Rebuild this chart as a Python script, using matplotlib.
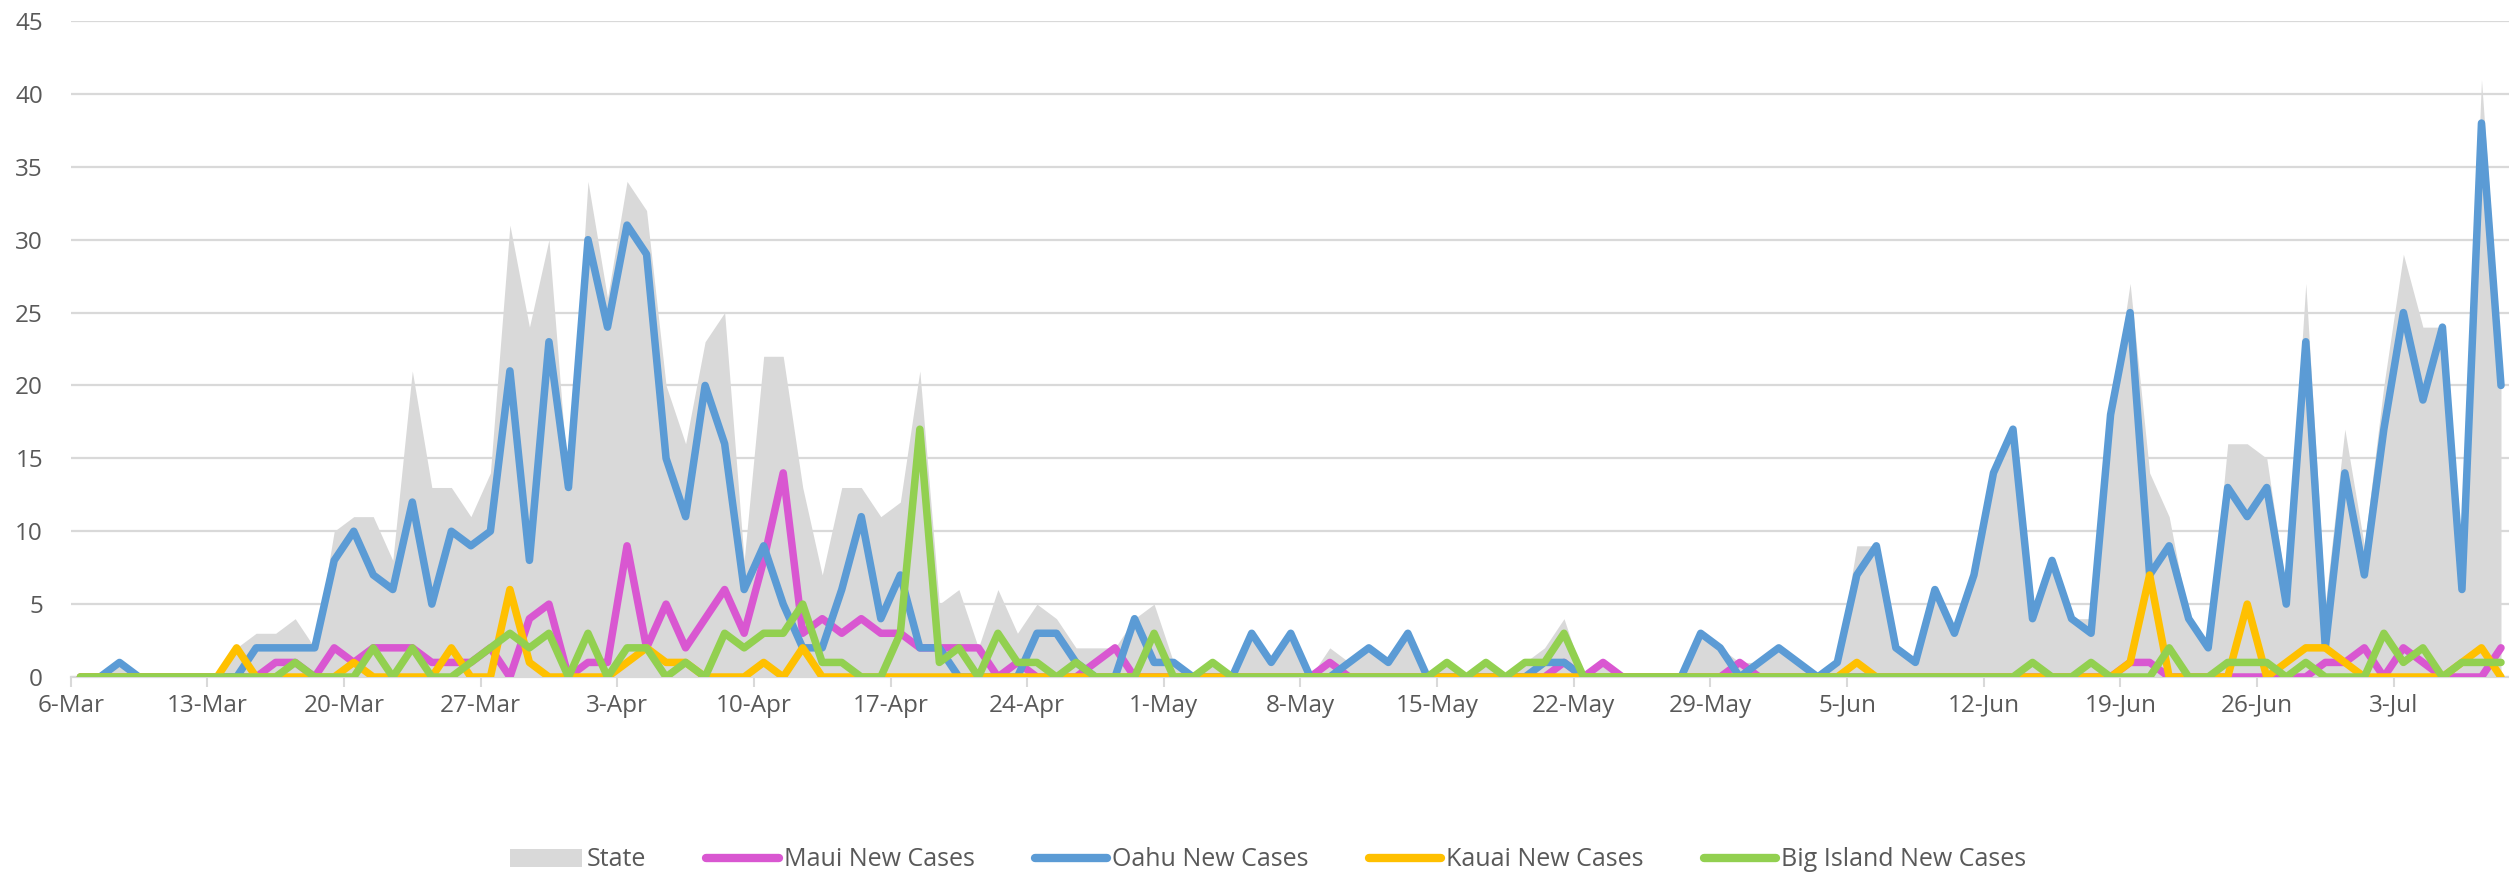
import matplotlib
matplotlib.use("Agg")
import matplotlib.pyplot as plt
import numpy as np
from matplotlib.patches import Patch
from matplotlib.lines import Line2D

# Daily values, 6-Mar .. 8-Jul (125 days)
state = [0, 0, 1, 0, 0, 0, 0, 0, 2, 3,
         3, 4, 2, 10, 11, 11, 8, 21, 13, 13,
         11, 14, 31, 24, 30, 13, 34, 26, 34, 32,
         20, 16, 23, 25, 8, 22, 22, 13, 7, 13,
         13, 11, 12, 21, 5, 6, 2, 6, 3, 5,
         4, 2, 2, 2, 4, 5, 1, 0, 1, 0,
         3, 1, 3, 0, 2, 1, 2, 1, 3, 0,
         1, 0, 1, 0, 1, 2, 4, 0, 1, 0,
         0, 0, 0, 3, 2, 1, 1, 2, 1, 0,
         1, 9, 9, 2, 1, 6, 3, 7, 14, 17,
         5, 8, 4, 4, 18, 27, 14, 11, 4, 2,
         16, 16, 15, 6, 27, 5, 17, 9, 20, 29,
         24, 24, 8, 41, 22]

maui = [0, 0, 0, 0, 0, 0, 0, 0, 0, 0,
        1, 1, 0, 2, 1, 2, 2, 2, 1, 1,
        1, 2, 0, 4, 5, 0, 1, 1, 9, 2,
        5, 2, 4, 6, 3, 8, 14, 3, 4, 3,
        4, 3, 3, 2, 2, 2, 2, 0, 1, 0,
        0, 0, 1, 2, 0, 0, 0, 0, 0, 0,
        0, 0, 0, 0, 1, 0, 0, 0, 0, 0,
        0, 0, 0, 0, 0, 0, 1, 0, 1, 0,
        0, 0, 0, 0, 0, 1, 0, 0, 0, 0,
        0, 0, 0, 0, 0, 0, 0, 0, 0, 0,
        0, 0, 0, 0, 0, 1, 1, 0, 0, 0,
        0, 0, 0, 0, 0, 1, 1, 2, 0, 2,
        1, 0, 0, 0, 2]

oahu = [0, 0, 1, 0, 0, 0, 0, 0, 0, 2,
        2, 2, 2, 8, 10, 7, 6, 12, 5, 10,
        9, 10, 21, 8, 23, 13, 30, 24, 31, 29,
        15, 11, 20, 16, 6, 9, 5, 2, 2, 6,
        11, 4, 7, 2, 2, 0, 0, 0, 0, 3,
        3, 1, 0, 0, 4, 1, 1, 0, 0, 0,
        3, 1, 3, 0, 0, 1, 2, 1, 3, 0,
        0, 0, 0, 0, 0, 1, 1, 0, 0, 0,
        0, 0, 0, 3, 2, 0, 1, 2, 1, 0,
        1, 7, 9, 2, 1, 6, 3, 7, 14, 17,
        4, 8, 4, 3, 18, 25, 7, 9, 4, 2,
        13, 11, 13, 5, 23, 2, 14, 7, 17, 25,
        19, 24, 6, 38, 20]

kauai = [0, 0, 0, 0, 0, 0, 0, 0, 2, 0,
         0, 0, 0, 0, 1, 0, 0, 0, 0, 2,
         0, 0, 6, 1, 0, 0, 0, 0, 1, 2,
         1, 1, 0, 0, 0, 1, 0, 2, 0, 0,
         0, 0, 0, 0, 0, 0, 0, 0, 0, 0,
         0, 0, 0, 0, 0, 0, 0, 0, 0, 0,
         0, 0, 0, 0, 0, 0, 0, 0, 0, 0,
         0, 0, 0, 0, 0, 0, 0, 0, 0, 0,
         0, 0, 0, 0, 0, 0, 0, 0, 0, 0,
         0, 1, 0, 0, 0, 0, 0, 0, 0, 0,
         0, 0, 0, 0, 0, 1, 7, 0, 0, 0,
         0, 5, 0, 1, 2, 2, 1, 0, 0, 0,
         0, 0, 1, 2, 0]

big_island = [0, 0, 0, 0, 0, 0, 0, 0, 0, 0,
              0, 1, 0, 0, 0, 2, 0, 2, 0, 0,
              1, 2, 3, 2, 3, 0, 3, 0, 2, 2,
              0, 1, 0, 3, 2, 3, 3, 5, 1, 1,
              0, 0, 3, 17, 1, 2, 0, 3, 1, 1,
              0, 1, 0, 0, 0, 3, 0, 0, 1, 0,
              0, 0, 0, 0, 0, 0, 0, 0, 0, 0,
              1, 0, 1, 0, 1, 1, 3, 0, 0, 0,
              0, 0, 0, 0, 0, 0, 0, 0, 0, 0,
              0, 0, 0, 0, 0, 0, 0, 0, 0, 0,
              1, 0, 0, 1, 0, 0, 0, 2, 0, 0,
              1, 1, 1, 0, 1, 0, 0, 0, 3, 1,
              2, 0, 1, 1, 1]

tick_labels = ["6-Mar", "13-Mar", "20-Mar", "27-Mar", "3-Apr", "10-Apr",
               "17-Apr", "24-Apr", "1-May", "8-May", "15-May", "22-May",
               "29-May", "5-Jun", "12-Jun", "19-Jun", "26-Jun", "3-Jul"]

series_names = ["State", "Maui New Cases", "Oahu New Cases",
                "Kauai New Cases", "Big Island New Cases"]

C_STATE = "#D9D9D9"
C_MAUI = "#D957D1"
C_OAHU = "#5B9BD5"
C_KAUAI = "#FFC000"
C_BIG = "#92D050"
TXT = "#595959"

plt.rcParams["font.family"] = ["Open Sans", "DejaVu Sans"]

W, H = 2509, 873
fig = plt.figure(figsize=(W / 100, H / 100), dpi=100)
left = 70.7 / W
bottom = (H - 677) / H
top = (H - 21) / H
ax = fig.add_axes([left, bottom, 1 - left, top - bottom])

x = np.arange(len(state))
ax.fill_between(x, 0, state, color=C_STATE, lw=0, zorder=1)
lw = 5.4
kw = dict(lw=lw, solid_joinstyle="round", solid_capstyle="round", zorder=3)
ax.plot(x, maui, color=C_MAUI, **kw)
ax.plot(x, oahu, color=C_OAHU, **kw)
ax.plot(x, kauai, color=C_KAUAI, **kw)
ax.plot(x, big_island, color=C_BIG, **kw)

ax.set_ylim(0, 45)
ax.set_xlim(-0.5, 124.41)
ax.set_yticks(np.arange(0, 46, 5))
ax.yaxis.grid(True, color=C_STATE, lw=1.6, zorder=0)
ax.set_axisbelow(True)

tick_pos = np.arange(len(tick_labels)) * 7 - 0.5
ax.set_xticks(tick_pos)
ax.set_xticklabels(tick_labels)

for s in ["top", "right", "left"]:
    ax.spines[s].set_visible(False)
ax.spines["bottom"].set_color(C_STATE)
ax.spines["bottom"].set_linewidth(1.6)
ax.spines["bottom"].set_zorder(2)

ax.tick_params(axis="y", length=0, pad=20, labelsize=17.5, labelcolor=TXT)
ax.tick_params(axis="x", length=7, width=1.5, color=C_STATE, pad=5,
               labelsize=17.5, labelcolor=TXT, direction="out")

handles = [
    Patch(facecolor=C_STATE, edgecolor="none"),
    Line2D([0], [0], color=C_MAUI, lw=lw + 0.6, solid_capstyle="round"),
    Line2D([0], [0], color=C_OAHU, lw=lw + 0.6, solid_capstyle="round"),
    Line2D([0], [0], color=C_KAUAI, lw=lw + 0.6, solid_capstyle="round"),
    Line2D([0], [0], color=C_BIG, lw=lw + 0.6, solid_capstyle="round"),
]
leg = fig.legend(handles, series_names, loc="center", ncol=5, frameon=False,
                 bbox_to_anchor=(1268 / W, (H - 860) / H),
                 fontsize=18, handlelength=2.9, handleheight=0.7,
                 handletextpad=0.2, columnspacing=2.4, labelcolor=TXT)

fig.savefig("out.png", dpi=100)
